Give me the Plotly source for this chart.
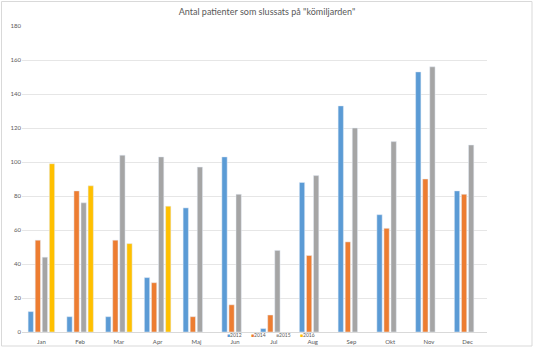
import plotly.graph_objects as go

months = ["Jan", "Feb", "Mar", "Apr", "Maj", "Jun", "Jul", "Aug", "Sep", "Okt", "Nov", "Dec"]
v2012 = [12, 9, 9, 32, 73, 103, 2, 88, 133, 69, 153, 83]
v2014 = [54, 83, 54, 29, 9, 16, 10, 45, 53, 61, 90, 81]
v2015 = [44, 76, 104, 103, 97, 81, 48, 92, 120, 112, 156, 110]
v2016 = [99, 86, 52, 74, None, None, None, None, None, None, None, None]
series = [("2012", v2012, "#5B9BD5"), ("2014", v2014, "#ED7D31"),
          ("2015", v2015, "#A5A5A5"), ("2016", v2016, "#FFC000")]
yticks = [0, 20, 40, 60, 80, 100, 120, 140, 160, 180]

W, H = 534, 349
L, R, T, B = 22, 47, 26, 17
pw, ph = W - L - R, H - T - B

def px(x):
    return (x - L) / pw

def py(y):
    return (H - B - y) / ph

fig = go.Figure()
for name, vals, col in series:
    fig.add_trace(go.Bar(x=months, y=vals, name=name, marker_color=col, showlegend=False))

annotations = []
for i, (name, vals, col) in enumerate(series):
    annotations.append(dict(
        xref="paper", yref="paper", x=px(225 + 24.3 * i), y=py(334.5),
        xanchor="left", yanchor="middle", showarrow=False,
        text=f"<span style='color:{col}'>■</span>{name}",
        font=dict(size=5, color="#595959"),
    ))

fig.update_layout(
    width=W, height=H,
    margin=dict(l=L, r=R, t=T, b=B),
    paper_bgcolor="white", plot_bgcolor="white",
    barmode="group", bargap=0.27, bargroupgap=0.25,
    font=dict(family="Lato, Open Sans, sans-serif", size=6, color="#595959"),
    title=dict(text='Antal patienter som slussats på "kömiljarden"', x=0.5, xanchor="center",
               y=1 - 12 / H, yanchor="middle", font=dict(size=9, color="#595959")),
    showlegend=False,
    xaxis=dict(showline=True, linecolor="#D9D9D9", ticks="", tickfont=dict(size=6),
               automargin=False, ticklabelstandoff=4),
    yaxis=dict(range=[0, 180], tickvals=yticks, showgrid=True, gridcolor="#E6E6E6",
               zeroline=False, ticks="", tickfont=dict(size=6), automargin=False),
    annotations=annotations,
    shapes=[dict(type="rect", xref="paper", yref="paper", x0=px(1.5), x1=px(532),
                 y0=py(346), y1=py(1.5), line=dict(color="#D9D9D9", width=1))],
)
fig.write_html("out.html")
